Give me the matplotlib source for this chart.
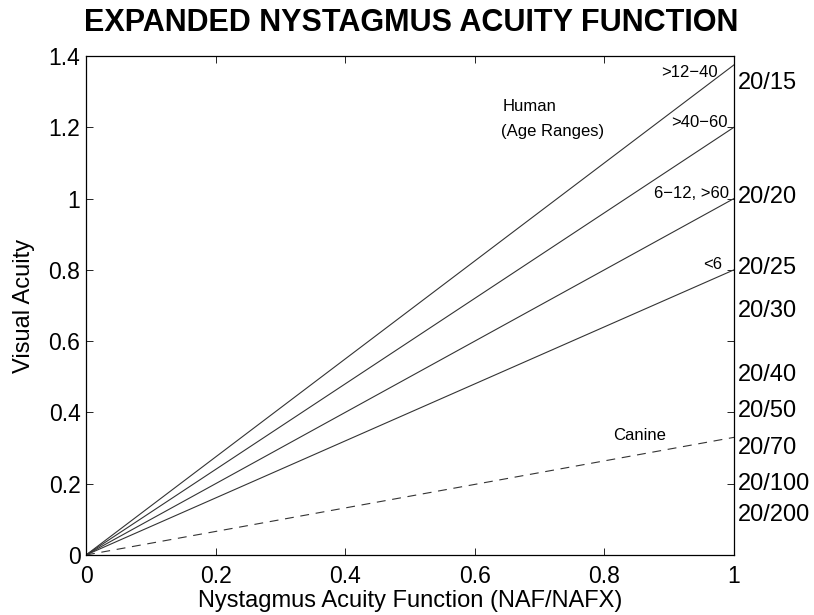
import matplotlib
matplotlib.use("Agg")
import matplotlib.pyplot as plt
import numpy as np

plt.rcParams['font.family'] = ['Liberation Sans', 'DejaVu Sans']

# Data
x_end = [0.0, 1.0]
human_labels = [">12\u221240", ">40\u221260", "6\u221212, >60", "<6"]
human_slopes = [1.375, 1.2, 1.0, 0.8]
canine_slope = 0.33
label_pos_y = [1.355, 1.212, 1.013, 0.814]
label_pos_x = [0.975, 0.99, 0.993, 0.982]
snellen_labels = ["20/15", "20/20", "20/25", "20/30", "20/40", "20/50", "20/70", "20/100", "20/200"]
snellen_y = [1.325, 1.003, 0.805, 0.685, 0.505, 0.405, 0.30, 0.20, 0.112]
xticks = [0, 0.2, 0.4, 0.6, 0.8, 1]
yticks = [0, 0.2, 0.4, 0.6, 0.8, 1, 1.2, 1.4]

fig = plt.figure(figsize=(8.14, 6.15), dpi=100)
ax = fig.add_axes([0.1057, 0.0976, 0.796, 0.8114])

for s in human_slopes:
    ax.plot(x_end, [0, s], color='#333333', lw=0.8)
ax.plot(x_end, [0, canine_slope], color='#333333', lw=0.8, ls=(0, (8, 6)))

for lab, lx, ly in zip(human_labels, label_pos_x, label_pos_y):
    ax.text(lx, ly, lab, ha='right', va='center', fontsize=12)
ax.text(0.855, 0.334, "Canine", ha='center', va='center', fontsize=12)
ax.text(0.643, 1.257, "Human", ha='left', va='center', fontsize=12)
ax.text(0.641, 1.187, "(Age Ranges)", ha='left', va='center', fontsize=12)

for lab, yy in zip(snellen_labels, snellen_y):
    ax.text(1.006, yy, lab, ha='left', va='center', fontsize=17, clip_on=False)

ax.set_xlim(0, 1)
ax.set_ylim(0, 1.4)
ax.set_xticks(xticks)
ax.set_xticklabels([f"{v:g}" for v in xticks])
ax.set_yticks(yticks)
ax.set_yticklabels([f"{v:g}" for v in yticks])
ax.tick_params(direction='in', length=5, width=0.6, labelsize=16.5, top=True, right=True)
ax.tick_params(axis='x', pad=7)
ax.tick_params(axis='y', pad=4)
for sp in ax.spines.values():
    sp.set_linewidth(0.9)

ax.set_xlabel("Nystagmus Acuity Function (NAF/NAFX)", fontsize=17, labelpad=2)
ax.set_ylabel("Visual Acuity", fontsize=17, labelpad=10)
fig.text(0.505, 0.962, "EXPANDED NYSTAGMUS ACUITY FUNCTION", ha='center', va='center',
         fontsize=22, fontweight='bold')

fig.savefig("out.png", dpi=100)
